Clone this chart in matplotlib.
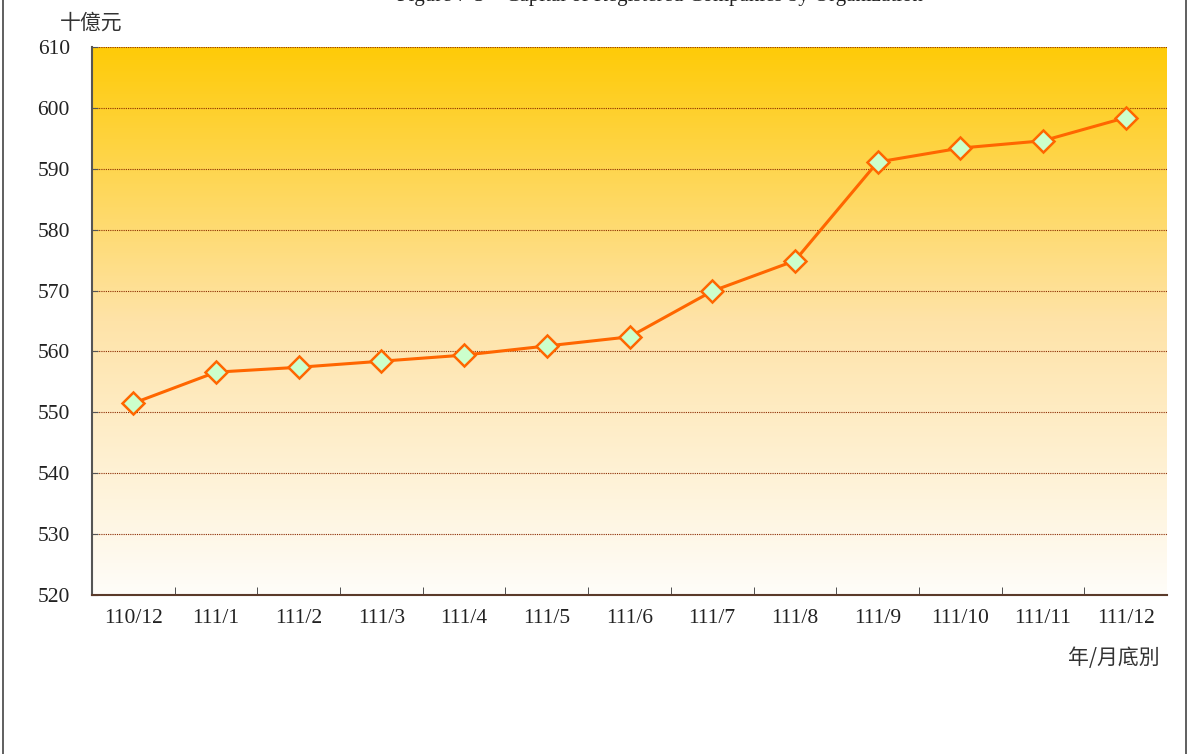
import numpy as np
import matplotlib.pyplot as plt
from matplotlib.colors import LinearSegmentedColormap
from matplotlib.lines import Line2D

months = ['110/12', '111/1', '111/2', '111/3', '111/4', '111/5', '111/6',
          '111/7', '111/8', '111/9', '111/10', '111/11', '111/12']
capital = [551.5, 556.6, 557.4, 558.4, 559.4, 560.9, 562.4,
           569.9, 574.9, 591.1, 593.4, 594.6, 598.4]
yticks = [520, 530, 540, 550, 560, 570, 580, 590, 600, 610]

fonts = ['Liberation Serif', 'Noto Sans CJK TC']
plt.rcParams['font.family'] = fonts

fig = plt.figure(figsize=(11.89, 7.54), dpi=100)
ax = fig.add_axes([92 / 1189, 1 - 595 / 754, 1075 / 1189, 548 / 754])

x = np.arange(len(months))
ax.set_xlim(-0.5, len(months) - 0.5)
ax.set_ylim(520, 610)

# vertical gradient background
cmap = LinearSegmentedColormap.from_list('bg', ['#fffdf9', '#fee3a8', '#ffcb08'])
grad = np.linspace(0, 1, 256).reshape(-1, 1)
ax.imshow(grad, cmap=cmap, aspect='auto', origin='lower',
          extent=(-0.5, len(months) - 0.5, 520, 610), zorder=0)

for v in yticks[1:]:
    ax.axhline(v, color='#8b2a00', lw=0.8, ls=(0, (1, 1)), zorder=1)

ax.plot(x, capital, color='#ff6600', lw=2.2, marker='D', markersize=11,
        markerfacecolor='#ccffcc', markeredgecolor='#ff6600', markeredgewidth=1.8,
        zorder=3)

ax.set_yticks(yticks)
ax.set_yticklabels([str(v) for v in yticks], fontsize=15.5, color='#222222')
ax.set_xticks(x)
ax.set_xticklabels(months, fontsize=15.5, color='#222222')
ax.tick_params(axis='x', length=0, pad=10)
ax.tick_params(axis='y', length=4, direction='in', color='#555555', pad=16)
ax.set_xticks(np.arange(0.5, len(months) - 0.5, 1), minor=True)
ax.tick_params(axis='x', which='minor', direction='in', length=6, color='#333333')

for side in ['top', 'right']:
    ax.spines[side].set_visible(False)
ax.spines['left'].set_color('#555555')
ax.spines['left'].set_linewidth(1.5)
ax.spines['bottom'].set_color('#5a3a2a')
ax.spines['bottom'].set_linewidth(1.5)

fig.text(60 / 1189, 1 - 23 / 754, '十億元', fontsize=15, va='center', ha='left',
         color='#333333', family=['Noto Sans CJK TC'])
fig.text(1160 / 1189, 1 - 658 / 754, '年/月底別', fontsize=15, va='center', ha='right',
         color='#333333', family=['Noto Sans CJK TC'])
# title sits partly above the top edge, as in the source image
fig.text(660 / 1189, 1 - (-4) / 754, 'Figure 7-3　Capital of Registered Companies by Organization',
         fontsize=15, va='center', ha='center', color='#222222')

# outer frame lines
fig.add_artist(Line2D([3 / 1189, 3 / 1189], [0, 1], color='#444444', lw=1.2))
fig.add_artist(Line2D([1186 / 1189, 1186 / 1189], [0, 1], color='#444444', lw=1.2))

fig.savefig('out.png', dpi=100)
